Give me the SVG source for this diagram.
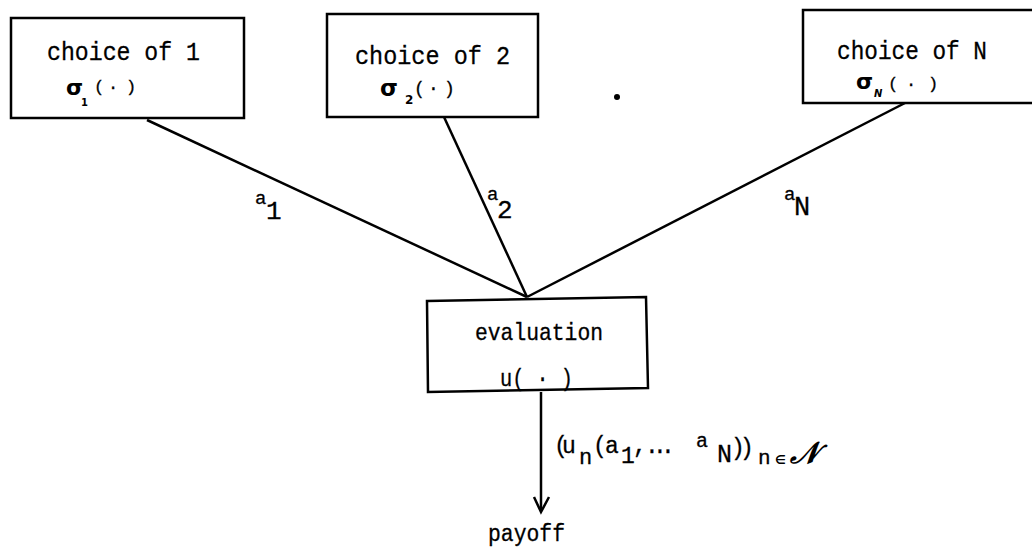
<svg xmlns="http://www.w3.org/2000/svg" width="1032" height="551" viewBox="0 0 1032 551">
<style>
.box{fill:#fff;stroke:#000;stroke-width:2.5}
.t{font-family:"Liberation Mono","DejaVu Sans Mono",monospace;fill:#000;stroke:#000;stroke-width:0.3}
.s{font-family:"DejaVu Sans",sans-serif;font-weight:bold;stroke:none}
.ln{stroke:#000;stroke-width:2.5;fill:none}
</style>
<rect width="1032" height="551" fill="#fff"/>
<g id="connectors">
<line class="ln" x1="147" y1="120" x2="527" y2="297"/>
<line class="ln" x1="444" y1="117" x2="527" y2="297"/>
<line class="ln" x1="905" y1="103" x2="527" y2="297"/>
<line class="ln" x1="541" y1="392" x2="541" y2="510"/>
<polyline class="ln" stroke-width="3" points="534,497 541,512 549,497"/>
<g id="edge-labels">
<text class="t"><tspan x="255" y="204" font-size="19">a</tspan><tspan x="266" y="219" font-size="26">1</tspan></text>
<text class="t"><tspan x="487" y="200" font-size="19">a</tspan><tspan x="497" y="218" font-size="26">2</tspan></text>
<text class="t"><tspan x="784" y="200" font-size="19">a</tspan><tspan x="794" y="215" font-size="27">N</tspan></text>
</g>
<text id="payoff-label" class="t" font-size="23"><tspan x="554 562" y="453">(u</tspan><tspan x="579" y="464" font-size="22">n</tspan><tspan x="593 605" y="453">(a</tspan><tspan x="621" y="463" font-size="23">1</tspan><tspan x="633 645 653 661" y="453">,...</tspan><tspan x="696" y="447" font-size="20">a</tspan><tspan x="717" y="462" font-size="25">N</tspan><tspan x="731 740" y="455">))</tspan><tspan x="758" y="464" font-size="21">n</tspan><tspan class="s" x="775" y="464" font-size="12">∈</tspan><tspan class="s" x="790" y="463" font-size="30" font-style="italic">𝒩</tspan></text>
</g>
<g id="node-choice1">
<rect class="box" x="11" y="18" width="233" height="100"/>
<text class="t" x="47" y="60" font-size="26" textLength="153" lengthAdjust="spacingAndGlyphs">choice of  1</text>
<text class="t" font-size="17"><tspan class="s" x="66" y="95" font-size="22">σ</tspan><tspan class="s" x="81" y="106" font-size="10">1</tspan><tspan x="94 108 126" y="92">(·)</tspan></text>
</g>
<g id="node-choice2">
<rect class="box" x="327" y="14" width="211" height="103"/>
<text class="t" x="355" y="64" font-size="26" textLength="155" lengthAdjust="spacingAndGlyphs">choice of  2</text>
<text class="t" font-size="18"><tspan class="s" x="380" y="96" font-size="23">σ</tspan><tspan class="s" x="405" y="104" font-size="12">2</tspan><tspan x="414 428 444" y="94">(·)</tspan></text>
</g>
<circle cx="617" cy="97" r="3" fill="#000"/>
<g id="node-choiceN">
<rect class="box" x="803" y="10" width="240" height="93"/>
<text class="t" x="837" y="59" font-size="26" textLength="150" lengthAdjust="spacingAndGlyphs">choice of  N</text>
<text class="t" font-size="17"><tspan class="s" x="856" y="89" font-size="22">σ</tspan><tspan class="s" x="874" y="97" font-size="10" font-style="italic">N</tspan><tspan x="888 906 928" y="89">(·)</tspan></text>
</g>
<g id="node-evaluation">
<polygon class="box" points="427,301 646,297 648,388 428,392"/>
<text class="t" x="475" y="340" font-size="24" textLength="128" lengthAdjust="spacingAndGlyphs">evaluation</text>
<text class="t" x="500" y="386" font-size="23" textLength="73" lengthAdjust="spacingAndGlyphs">u( · )</text>
</g>
<g id="node-payoff">
<text class="t" x="488" y="541" font-size="23" textLength="77" lengthAdjust="spacingAndGlyphs">payoff</text>
</g>
</svg>
